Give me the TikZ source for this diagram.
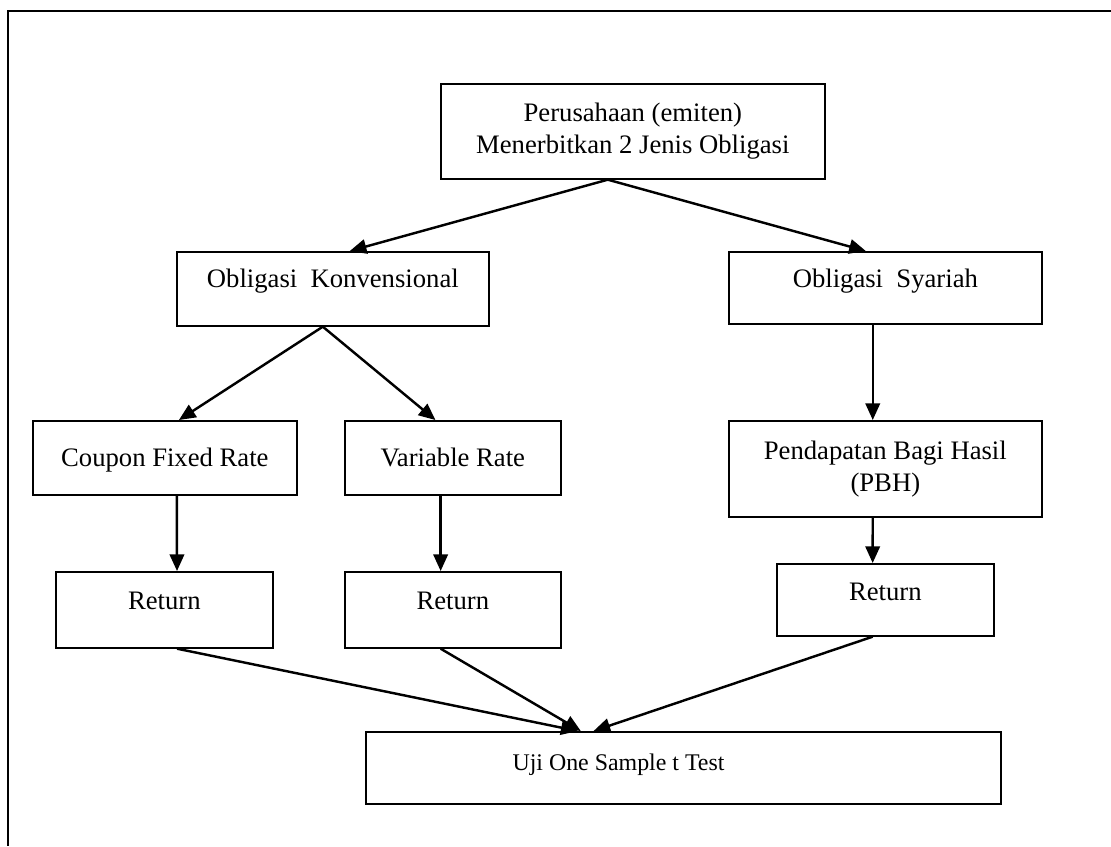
\documentclass[tikz,border=0pt]{standalone}
\usepackage{fontspec}
\setmainfont{Liberation Serif}
\usetikzlibrary{calc,arrows.meta}
\tikzset{
  bx/.style={draw, line width=0.75pt, inner sep=0pt, anchor=north west,
    font=\fontsize{12}{14.5}\selectfont},
  arr/.style={line width=1.1pt, -{Triangle[length=7.5pt,width=6.5pt]}},
  frameline/.style={line width=1.2pt}
}
\begin{document}
\begin{tikzpicture}[x=0.45pt,y=-0.45pt]
\useasboundingbox (0,0) rectangle (1111,846);
\draw[frameline] (1111,11) -- (8,11) -- (8,846);

\node[bx, minimum width=172.8pt, minimum height=42.75pt, align=center] (top) at (440,83)
  {Perusahaan (emiten)\\Menerbitkan 2 Jenis Obligasi};
\node[bx, minimum width=140.4pt, text height=16.2pt, text depth=17.1pt] (konv) at (176,251)
  {Obligasi\ \ Konvensional};
\node[bx, minimum width=140.85pt, text height=16.2pt, text depth=16.2pt] (syar) at (728,251)
  {Obligasi\ \ Syariah};
\node[bx, minimum width=118.8pt, text height=20.7pt, text depth=12.6pt] (cfr) at (32,420)
  {Coupon Fixed Rate};
\node[bx, minimum width=97.2pt, text height=20.7pt, text depth=12.6pt] (vr) at (344,420)
  {Variable Rate};
\node[bx, minimum width=140.85pt, minimum height=43.2pt, align=center] (pbh) at (728,420)
  {Pendapatan Bagi Hasil\\(PBH)};
\node[bx, minimum width=97.65pt, text height=17.1pt, text depth=17.1pt] (r1) at (55,571)
  {Return};
\node[bx, minimum width=97.2pt, text height=17.1pt, text depth=17.1pt] (r2) at (344,571)
  {Return};
\node[bx, minimum width=97.65pt, text height=16.65pt, text depth=15.75pt] (r3) at (776,563)
  {Return};
\node[bx, text height=17.55pt, text depth=14.85pt,
  font=\fontsize{10.75}{13}\selectfont] (uji) at (365,731)
  {\makebox[285.75pt][l]{\hspace*{66pt}Uji One Sample t Test}};

\draw[arr] ($(top.south west)!0.435!(top.south east)$) -- ($(konv.north west)!0.554!(konv.north east)$);
\draw[arr] ($(top.south west)!0.435!(top.south east)$) -- ($(syar.north west)!0.438!(syar.north east)$);
\draw[arr] ($(konv.south west)!0.468!(konv.south east)$) -- ($(cfr.north west)!0.553!(cfr.north east)$);
\draw[arr] ($(konv.south west)!0.468!(konv.south east)$) -- ($(vr.north west)!0.42!(vr.north east)$);
\draw[arr] ($(syar.south west)!0.46!(syar.south east)$) -- ($(pbh.north west)!0.46!(pbh.north east)$);
\draw[arr] ($(cfr.south west)!0.545!(cfr.south east)$) -- ($(r1.north west)!0.558!(r1.north east)$);
\draw[arr] ($(vr.south west)!0.444!(vr.south east)$) -- ($(r2.north west)!0.444!(r2.north east)$);
\draw[arr] ($(pbh.south west)!0.46!(pbh.south east)$) -- ($(r3.north west)!0.442!(r3.north east)$);
\draw[arr] ($(r1.south west)!0.558!(r1.south east)$) -- ($(uji.north west)!0.334!(uji.north east)$);
\draw[arr] ($(r2.south west)!0.444!(r2.south east)$) -- ($(uji.north west)!0.339!(uji.north east)$);
\draw[arr] ($(r3.south west)!0.442!(r3.south east)$) -- ($(uji.north west)!0.359!(uji.north east)$);
\end{tikzpicture}
\end{document}
